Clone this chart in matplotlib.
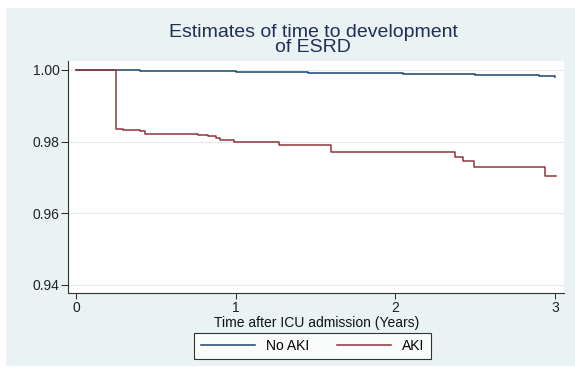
import matplotlib
matplotlib.use("Agg")
import matplotlib.pyplot as plt
from matplotlib.patches import Rectangle

plt.rcParams['font.family'] = ['Liberation Sans', 'DejaVu Sans']

# Kaplan-Meier estimates (step functions)
no_aki_t = [0, 0.25, 0.4, 0.55, 0.7, 0.85, 1.0, 1.15, 1.3, 1.45, 1.6, 1.75, 1.9,
            2.05, 2.2, 2.35, 2.5, 2.65, 2.8, 2.9, 2.97, 3.0]
no_aki_s = [1.0, 0.99995, 0.9998, 0.99972, 0.99965, 0.99958, 0.9995, 0.99943,
            0.99935, 0.99928, 0.9992, 0.9991, 0.99902, 0.99895, 0.99888, 0.9988,
            0.9987, 0.99858, 0.99845, 0.99832, 0.9982, 0.9981]

aki_t = [0, 0.251, 0.293, 0.397, 0.428, 0.763, 0.826, 0.878, 0.899, 0.987,
         1.271, 1.593, 2.373, 2.421, 2.49, 2.938, 3.005]
aki_s = [1.0, 0.98343, 0.98314, 0.98286, 0.9822, 0.98183, 0.98146, 0.9810, 0.98044,
         0.9798, 0.97904, 0.9770, 0.97577, 0.97448, 0.97298, 0.97046, 0.97046]

yticks = [0.94, 0.96, 0.98, 1.00]
xticks = [0, 1, 2, 3]

W, H = 575, 371
fig = plt.figure(figsize=(W / 100, H / 100), dpi=100)
fig.patch.set_facecolor('white')
fig.patches.append(Rectangle((6 / W, 1 - 366 / H), 1 - 6 / W, (366 - 8) / H,
                             transform=fig.transFigure, facecolor='#eaf2f3',
                             edgecolor='none', zorder=-5))

ax = fig.add_axes([68 / W, 1 - 293.3 / H, (564.3 - 68) / W, (293.3 - 61) / H])
ax.set_zorder(1)
ax.set_facecolor('white')

navy = '#1a476f'
maroon = '#90353b'
ax.step(no_aki_t, no_aki_s, where='post', color=navy, lw=1.1, label='No AKI', zorder=3)
ax.step(aki_t, aki_s, where='post', color=maroon, lw=1.1, label='AKI', zorder=3)

ax.set_xlim(-0.053, 3.059)
ax.set_ylim(0.9376, 1.0025)
ax.set_xticks(xticks)
ax.set_xticklabels([str(v) for v in xticks])
ax.set_yticks(yticks)
ax.set_yticklabels(['%.2f' % v for v in yticks])
ax.grid(axis='y', color='#e1eaec', lw=0.8, zorder=1)

for s in ['top', 'right']:
    ax.spines[s].set_visible(False)
for s in ['left', 'bottom']:
    ax.spines[s].set_color('#333333')
    ax.spines[s].set_linewidth(0.8)
ax.tick_params(axis='y', length=5, width=0.7, pad=1, labelsize=10, colors='#222222')
ax.tick_params(axis='x', length=4, width=0.7, pad=1.5, labelsize=10, colors='#222222')
ax.set_xlabel('Time after ICU admission (Years)', fontsize=10, labelpad=1, color='#111111')

fig.text(313 / W, 1 - 32.5 / H, 'Estimates of time to development', ha='center', va='center',
         fontsize=14, color='#1f2f57')
fig.text(313 / W, 1 - 48 / H, 'of ESRD', ha='center', va='center',
         fontsize=14, color='#1f2f57')

leg = fig.legend(loc='center', bbox_to_anchor=(312.5 / W, 1 - 346 / H), ncol=2,
                 fontsize=10, frameon=True, fancybox=False, handlelength=3.9,
                 columnspacing=2.0, borderpad=0.45, handletextpad=0.8)
leg.get_frame().set_edgecolor('black')
leg.get_frame().set_linewidth(0.8)
leg.get_frame().set_facecolor('white')

fig.savefig('out.png', dpi=100)
